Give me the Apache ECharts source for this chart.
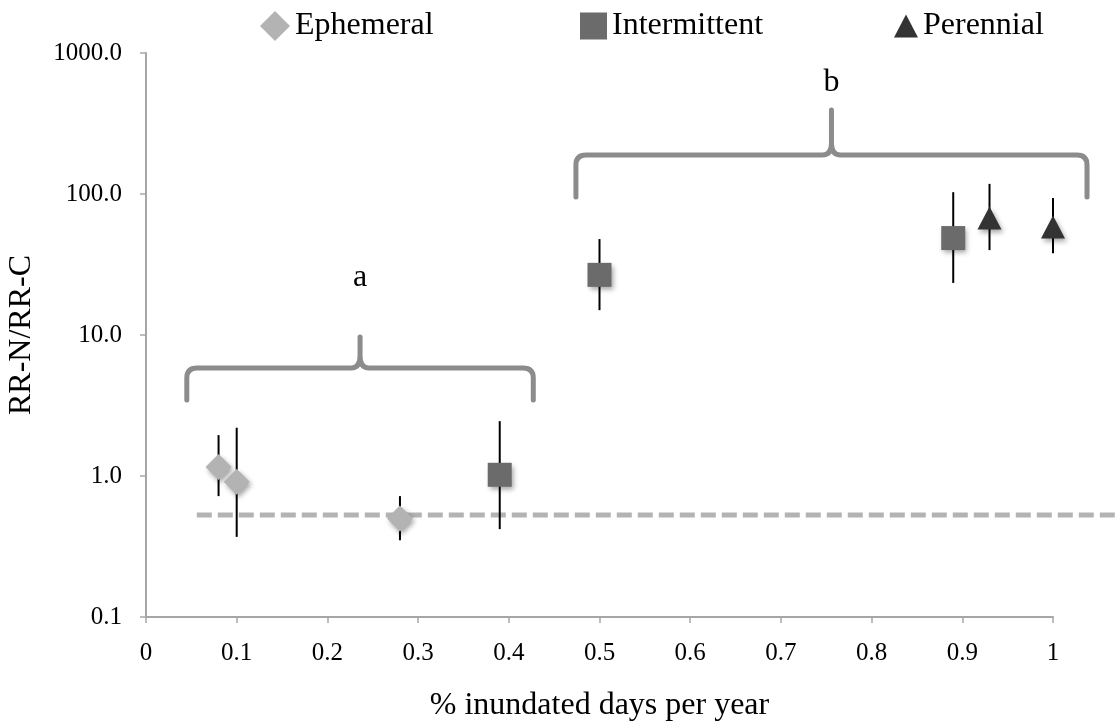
<!DOCTYPE html>
<html>
<head>
<meta charset="utf-8">
<title>RR-N/RR-C vs inundation</title>
<script src="https://cdn.jsdelivr.net/npm/echarts@6/dist/echarts.min.js"></script>
<style>
  html, body { margin: 0; padding: 0; background: #fff; }
  #chart { width: 1119px; height: 721px; }
</style>
</head>
<body>
<div id="chart"></div>
<script>
// values
const ephemeralX = [0.08, 0.1, 0.28]
const ephemeralY = [1.16, 0.91, 0.5]
const ephemeralLow = [0.72, 0.37, 0.35]
const ephemeralHigh = [1.95, 2.2, 0.72]

const intermittentX = [0.39, 0.5, 0.89]
const intermittentY = [1.02, 26.7, 48.7]
const intermittentLow = [0.42, 15.0, 23.4]
const intermittentHigh = [2.45, 47.9, 103]

const perennialX = [0.93, 1.0]
const perennialY = [67.6, 58.3]
const perennialLow = [40, 38]
const perennialHigh = [118, 93.5]

// dashed reference level
const refLevel = 0.53
const refFrom = 0.056
const refTo = 1.08

// brace groups: x range, leg end, bar, tip, label (in data units)
const braceLabels = ['a', 'b']
const braceX0 = [0.045, 0.474]
const braceX1 = [0.427, 1.0375]
const braceLeg = [3.46, 95.2]
const braceBar = [5.83, 189]
const braceTip = [9.68, 394]
const braceLabelY = [25.4, 612]

const FONT = 'Liberation Serif'

function pts(xs, ys) {
  return xs.map((x, i) => [x, ys[i]])
}
function bars(xs, lo, hi) {
  return xs.map((x, i) => [x, lo[i], hi[i]])
}

const errData = [].concat(
  bars(ephemeralX, ephemeralLow, ephemeralHigh),
  bars(intermittentX, intermittentLow, intermittentHigh),
  bars(perennialX, perennialLow, perennialHigh)
)
const braceData = braceLabels.map((l, i) => [braceX0[i], braceX1[i], braceLeg[i], braceBar[i], braceTip[i], braceLabelY[i]])

const markerShadow = {
  opacity: 1,
  shadowBlur: 5,
  shadowColor: 'rgba(0,0,0,0.35)',
  shadowOffsetX: 2,
  shadowOffsetY: 3
}

const legendText = { fontFamily: FONT, fontSize: 32, color: '#000' }

const chart = echarts.init(document.getElementById('chart'))

chart.setOption({
  animation: false,
  backgroundColor: '#fff',
  textStyle: { fontFamily: FONT, color: '#000' },
  grid: { left: 146, right: 66, top: 53, bottom: 104, containLabel: false, outerBoundsMode: 'none' },
  legend: [
    {
      data: [{ name: 'Ephemeral', icon: 'diamond' }],
      left: 260, top: 10, padding: 0,
      itemWidth: 30, itemHeight: 30, itemGap: 0, itemTextGap: 6,
      textStyle: legendText
    },
    {
      data: [{ name: 'Intermittent', icon: 'rect' }],
      left: 580, top: 10, padding: 0,
      itemWidth: 27, itemHeight: 27, itemGap: 0, itemTextGap: 13,
      textStyle: legendText
    },
    {
      data: [{ name: 'Perennial', icon: 'triangle' }],
      left: 894, top: 10, padding: 0,
      itemWidth: 24, itemHeight: 23, itemGap: 0, itemTextGap: -4,
      textStyle: legendText
    }
  ],
  xAxis: {
    type: 'value',
    min: 0,
    max: 1,
    interval: 0.1,
    name: '% inundated days per year',
    nameLocation: 'middle',
    nameGap: 73,
    nameTextStyle: { fontFamily: FONT, fontSize: 32, color: '#000' },
    axisLine: { show: true, onZero: false, lineStyle: { color: '#a6a6a6', width: 2 } },
    axisTick: { show: true, length: 6, lineStyle: { color: '#a6a6a6', width: 1.5 } },
    axisLabel: {
      margin: 24,
      fontFamily: FONT,
      fontSize: 25,
      color: '#000',
      formatter: v => String(+v.toFixed(1))
    },
    splitLine: { show: false }
  },
  yAxis: {
    type: 'log',
    logBase: 10,
    min: 0.1,
    max: 1000,
    name: 'RR-N/RR-C',
    nameLocation: 'middle',
    nameGap: 108,
    nameTextStyle: { fontFamily: FONT, fontSize: 32, color: '#000' },
    axisLine: { show: true, lineStyle: { color: '#a6a6a6', width: 2 } },
    axisTick: { show: true, length: 6, lineStyle: { color: '#a6a6a6', width: 1.5 } },
    axisLabel: {
      margin: 24,
      fontFamily: FONT,
      fontSize: 25,
      color: '#000',
      formatter: v => Number(v).toFixed(1)
    },
    splitLine: { show: false }
  },
  series: [
    {
      // dashed reference line, runs past the plot edge like the original
      name: 'reference',
      type: 'custom',
      silent: true,
      clip: false,
      z: 1,
      encode: { x: [0, 1], y: 2 },
      data: [[refFrom, refTo, refLevel]],
      renderItem: function(params, api) {
        const p1 = api.coord([api.value(0), api.value(2)])
        const p2 = api.coord([api.value(1), api.value(2)])
        return {
          type: 'line',
          shape: { x1: p1[0], y1: p1[1], x2: p2[0], y2: p2[1] },
          style: { stroke: '#b3b3b3', lineWidth: 5, lineDash: [15, 6] }
        }
      }
    },
    {
      name: 'brackets',
      type: 'custom',
      silent: true,
      z: 1,
      clip: false,
      encode: { x: [0, 1], y: [2, 3, 4, 5] },
      data: braceData,
      renderItem: function(params, api) {
        const x0 = api.value(0)
        const x1 = api.value(1)
        const leg = api.coord([x0, api.value(2)])
        const bar = api.coord([x0, api.value(3)])
        const right = api.coord([x1, api.value(3)])
        const tip = api.coord([(x0 + x1) / 2, api.value(4)])
        const lab = api.coord([(x0 + x1) / 2, api.value(5)])
        const lx = leg[0]
        const ly = leg[1]
        const by = bar[1]
        const rx = right[0]
        const cx = tip[0]
        const ty = tip[1]
        const r = 10
        const d = 'M' + lx + ',' + ly +
          ' L' + lx + ',' + (by + r) +
          ' Q' + lx + ',' + by + ' ' + (lx + r) + ',' + by +
          ' L' + (cx - 9) + ',' + by +
          ' Q' + cx + ',' + by + ' ' + cx + ',' + (by - 12) +
          ' L' + cx + ',' + ty +
          ' M' + cx + ',' + (by - 12) +
          ' Q' + cx + ',' + by + ' ' + (cx + 9) + ',' + by +
          ' L' + (rx - r) + ',' + by +
          ' Q' + rx + ',' + by + ' ' + rx + ',' + (by + r) +
          ' L' + rx + ',' + ly
        return {
          type: 'group',
          children: [
            {
              type: 'path',
              shape: { pathData: d },
              style: { fill: 'none', stroke: '#8c8c8c', lineWidth: 5, lineCap: 'round', lineJoin: 'round' }
            },
            {
              type: 'text',
              x: lab[0],
              y: lab[1],
              style: {
                text: braceLabels[params.dataIndex],
                fontFamily: FONT,
                fontSize: 32,
                fill: '#000',
                align: 'center',
                verticalAlign: 'middle'
              }
            }
          ]
        }
      }
    },
    {
      name: 'errors',
      type: 'custom',
      silent: true,
      z: 2,
      encode: { x: 0, y: [1, 2] },
      data: errData,
      renderItem: function(params, api) {
        const x = api.value(0)
        const p1 = api.coord([x, api.value(1)])
        const p2 = api.coord([x, api.value(2)])
        return {
          type: 'line',
          shape: { x1: p1[0], y1: p1[1], x2: p2[0], y2: p2[1] },
          style: { stroke: '#000', lineWidth: 2 }
        }
      }
    },
    {
      name: 'Ephemeral',
      type: 'scatter',
      z: 3,
      symbol: 'diamond',
      symbolSize: 26,
      itemStyle: Object.assign({ color: '#b3b3b3' }, markerShadow),
      data: pts(ephemeralX, ephemeralY)
    },
    {
      name: 'Intermittent',
      type: 'scatter',
      z: 3,
      symbol: 'rect',
      symbolSize: 24,
      itemStyle: Object.assign({ color: '#6b6b6b' }, markerShadow),
      data: pts(intermittentX, intermittentY)
    },
    {
      name: 'Perennial',
      type: 'scatter',
      z: 3,
      symbol: 'triangle',
      symbolSize: [24, 23],
      itemStyle: Object.assign({ color: '#333333' }, markerShadow),
      data: pts(perennialX, perennialY)
    }
  ]
})
</script>
</body>
</html>
